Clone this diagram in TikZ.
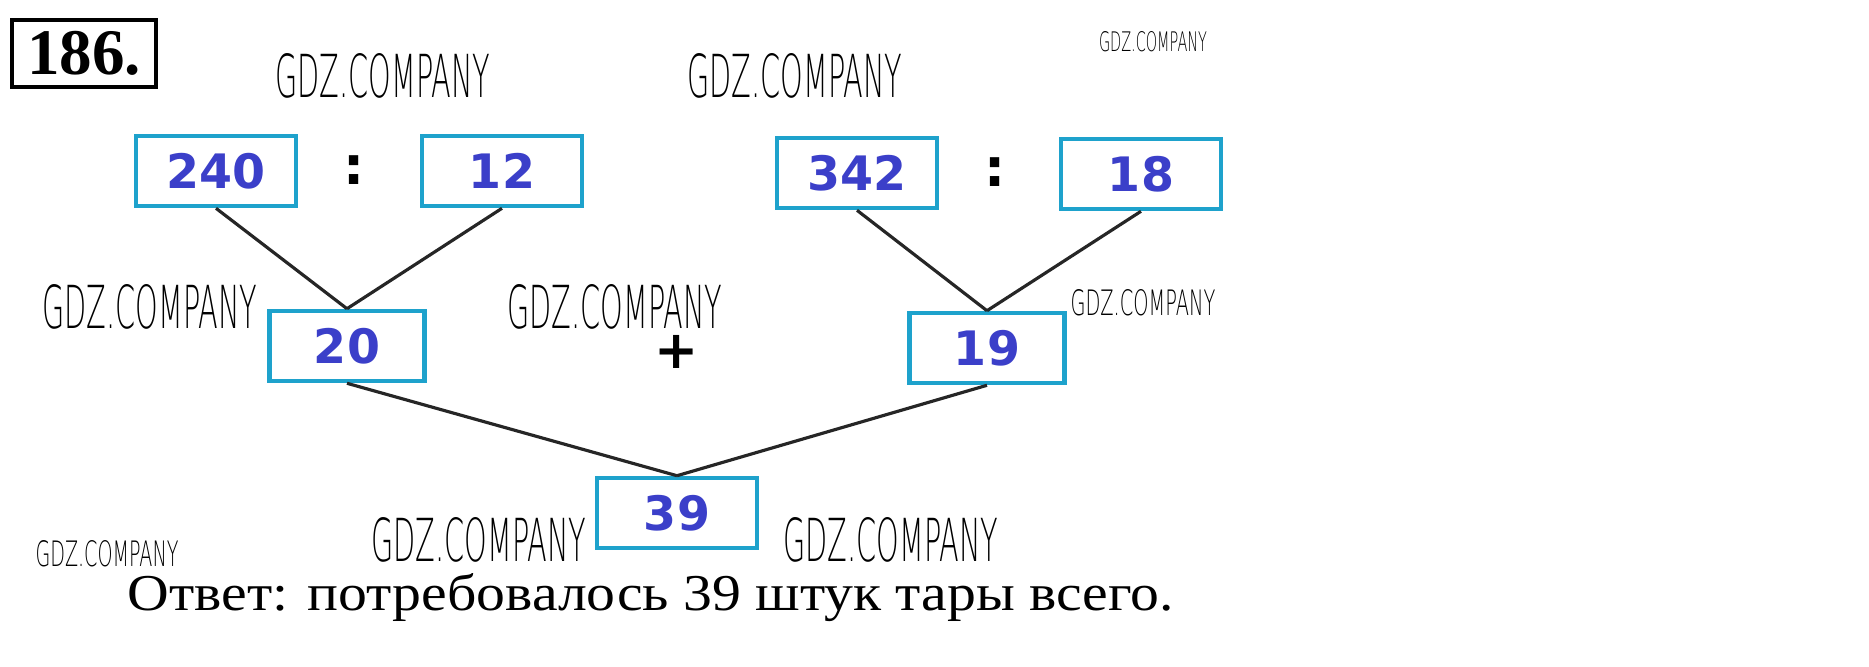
\documentclass[tikz,border=0pt]{standalone}
\usepackage{fontspec}
\usepackage{graphicx}
\setmainfont{Liberation Serif}
\newfontfamily\digitfont{DejaVu Sans}
\newfontfamily\wmfont{DejaVuSans-ExtraLight.ttf}
\definecolor{boxcyan}{HTML}{1EA2CC}
\definecolor{numblue}{HTML}{3B3FC9}
\newcommand{\wmark}[2]{\resizebox{#1}{#2}{\wmfont\fontsize{12}{12}\selectfont GDZ.COMPANY}}

\begin{document}
\begin{tikzpicture}[
    line width=0.9pt,
    font=\digitfont\bfseries\fontsize{13.5}{16}\selectfont
]
	\tikzset{
	    numbox/.style = {rectangle, draw=boxcyan, line width=1.3pt, fill=white, text=numblue, minimum width=1.6cm, minimum height=0.7cm, inner sep=0pt},
	    opsign/.style = {text=black, inner sep=0pt, font=\digitfont\bfseries\fontsize{15}{17}\selectfont},
	    wmnode/.style = {inner sep=0pt},
	    edgen/.style = {draw=black!85}
	}
	\useasboundingbox (0,0) rectangle (18.69,6.66);
	\node[draw=black, line width=1.3pt, minimum width=1.44cm, minimum height=0.67cm, inner sep=0pt, font=\rmfamily\bfseries\fontsize{18.5}{20}\selectfont] at (0.84,6.125) (task) {186.};
	\node[wmnode] at (3.83,5.90) (wma) {\wmark{2.15cm}{0.44cm}};
	\node[wmnode] at (7.95,5.90) (wmb) {\wmark{2.15cm}{0.44cm}};
	\node[wmnode] at (11.53,6.24) (wmc) {\wmark{1.08cm}{0.20cm}};
	\node[numbox] at (2.16,4.95) (n240) {240};
	\node[opsign] at (3.54,4.96) (colona) {:};
	\node[numbox] at (5.02,4.95) (n12) {12};
	\node[numbox] at (8.57,4.93) (n342) {342};
	\node[opsign] at (9.95,4.94) (colonb) {:};
	\node[numbox] at (11.41,4.92) (n18) {18};
	\node[numbox, minimum width=1.55cm] at (3.47,3.20) (n20) {20};
	\node[opsign] at (6.77,3.14) (plus) {+};
	\node[numbox, minimum width=1.55cm] at (9.87,3.18) (n19) {19};
	\node[numbox] at (6.77,1.53) (n39) {39};
	\node[wmnode] at (1.50,3.59) (wmd) {\wmark{2.15cm}{0.44cm}};
	\node[wmnode] at (6.15,3.59) (wme) {\wmark{2.15cm}{0.44cm}};
	\node[wmnode] at (11.43,3.63) (wmf) {\wmark{1.45cm}{0.26cm}};
	\node[wmnode] at (4.79,1.26) (wmg) {\wmark{2.15cm}{0.44cm}};
	\node[wmnode] at (8.91,1.26) (wmh) {\wmark{2.15cm}{0.44cm}};
	\node[wmnode] at (1.07,1.12) (wmi) {\wmark{1.43cm}{0.26cm}};
	\draw[edgen] (n240.south) edge (n20.north);
	\draw[edgen] (n12.south) edge (n20.north);
	\draw[edgen] (n342.south) edge (n19.north);
	\draw[edgen] (n18.south) edge (n19.north);
	\draw[edgen] (n20.south) edge (n39.north);
	\draw[edgen] (n19.south) edge (n39.north);
	\node[anchor=base, inner sep=0pt, font=\rmfamily] at (6.51,0.56) (answer) {\resizebox{10.46cm}{0.37cm}{Ответ: потребовалось 39 штук тары всего.}};
\end{tikzpicture}
\end{document}
